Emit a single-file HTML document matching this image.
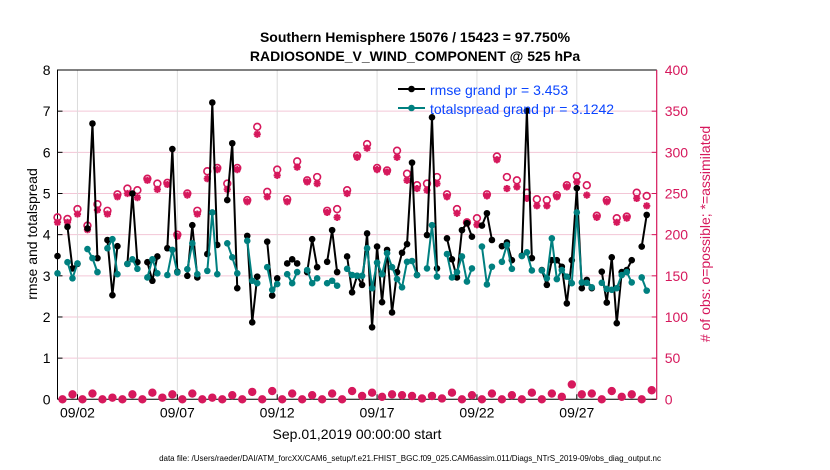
<!DOCTYPE html>
<html><head><meta charset="utf-8"><style>
html,body{margin:0;padding:0;background:#fff;}
svg{display:block;font-family:"Liberation Sans",Arial,sans-serif;}
</style></head><body>
<svg id="chart" width="830" height="470" viewBox="0 0 830 470" xmlns="http://www.w3.org/2000/svg">
<text x="415" y="42" text-anchor="middle" font-size="14" font-weight="bold">Southern Hemisphere 15076 / 15423 = 97.750%</text>
<text x="415" y="61" text-anchor="middle" font-size="14" font-weight="bold">RADIOSONDE_V_WIND_COMPONENT @ 525 hPa</text>
<g id="grid"></g>
<g id="axes"></g>
<g id="obs"></g>
<g id="lines"></g>
<text transform="translate(37,234) rotate(-90)" text-anchor="middle" font-size="14">rmse and totalspread</text>
<text transform="translate(710,234) rotate(-90)" text-anchor="middle" font-size="14" fill="#d6185c"># of obs: o=possible; *=assimilated</text>
<text x="357" y="439" text-anchor="middle" font-size="14">Sep.01,2019 00:00:00 start</text>
<text x="410" y="461" text-anchor="middle" font-size="8">data file: /Users/raeder/DAI/ATM_forcXX/CAM6_setup/f.e21.FHIST_BGC.f09_025.CAM6assim.011/Diags_NTrS_2019-09/obs_diag_output.nc</text>
<g>
<line x1="398" y1="89" x2="425" y2="89" stroke="#000" stroke-width="2"/>
<circle cx="411.5" cy="89" r="3.3" fill="#000"/>
<text x="430" y="95" font-size="14" fill="#0a45ff">rmse grand pr = 3.453</text>
<line x1="398" y1="108" x2="425" y2="108" stroke="#008080" stroke-width="2"/>
<circle cx="411.5" cy="108" r="3.3" fill="#008080"/>
<text x="430" y="114" font-size="14" fill="#0a45ff">totalspread grand pr = 3.1242</text>
</g>
</svg>
<script>
const xTickLabels = ["09/02","09/07","09/12","09/17","09/22","09/27"];
const xTickDays = [1,6,11,16,21,26];
const leftTicks = [0,1,2,3,4,5,6,7,8];
const rightTicks = [0,50,100,150,200,250,300,350,400];
const rmse = [3.48,null,4.19,3.18,3.29,null,4.15,6.70,3.43,null,
3.87,2.53,3.72,null,3.29,5.00,3.33,null,3.33,2.88,
3.47,null,3.67,6.08,3.10,null,3.00,4.23,2.96,null,
3.53,7.21,3.75,null,4.84,6.22,2.70,null,3.97,1.87,
2.98,null,3.83,2.52,2.94,null,3.30,3.40,3.30,null,
3.09,3.89,3.21,null,3.34,4.11,3.09,null,3.47,2.60,
3.00,2.78,4.03,1.75,3.71,2.36,3.63,2.11,3.09,3.56,
3.77,5.75,3.02,null,3.99,6.85,3.18,null,3.91,3.40,
2.96,4.11,4.28,3.95,null,4.22,4.52,3.87,null,3.72,
3.81,3.38,null,3.49,7.01,3.43,null,3.14,2.78,3.38,
3.38,3.22,2.33,3.38,5.13,2.70,2.90,2.70,null,3.10,
2.35,3.45,1.85,3.09,3.14,3.38,null,3.71,4.48,null];
const spread = [3.06,null,3.33,2.94,3.30,null,3.65,3.43,3.09,null,
3.67,3.89,3.04,null,3.29,3.40,3.17,null,2.96,3.40,
3.06,null,3.02,3.63,3.08,null,3.16,3.79,3.04,null,
3.12,4.54,3.04,null,3.79,3.45,3.06,null,3.85,2.88,
2.82,null,3.21,2.66,2.80,null,3.04,2.82,3.09,null,
3.14,2.82,2.94,null,2.82,2.88,2.76,null,3.17,3.02,
3.00,3.00,3.67,2.70,3.32,3.04,3.55,3.21,2.92,2.72,
3.34,3.36,3.02,null,3.18,4.23,2.98,null,3.53,2.96,
3.09,3.47,2.86,3.18,null,3.71,2.79,3.22,null,3.34,
3.75,3.17,null,3.48,3.57,3.13,null,3.13,2.94,3.91,
2.92,3.14,2.98,2.82,4.54,2.84,2.83,2.72,null,2.83,
2.68,2.66,2.70,3.02,3.09,2.84,null,2.96,2.64,null];
const nAssim = [215,0,215,6,225,0,206,7,230,0,
225,2,246,0,250,6,245,0,266,8,
255,2,261,6,198,0,248,7,225,0,
268,2,279,0,255,5,279,0,240,9,
322,0,246,10,272,0,240,7,282,0,
264,5,262,0,227,7,221,0,250,10,
294,4,305,8,279,3,276,6,294,5,
266,4,256,1,254,4,262,1,246,8,
226,0,214,5,212,0,247,7,291,0,
256,5,258,0,244,8,235,0,235,7,
246,3,258,18,264,6,248,7,221,0,
240,10,215,3,220,6,244,0,235,11];
const nPoss = [221,0,219,6,231,0,211,7,237,0,
229,2,249,0,256,6,254,0,268,8,
262,2,263,6,200,0,250,7,229,0,
277,2,281,0,262,5,281,0,242,9,
331,0,252,10,279,0,243,7,289,0,
266,5,270,0,229,7,231,0,254,10,
296,4,310,8,281,3,278,6,302,5,
274,4,260,1,262,4,270,1,249,8,
231,0,215,5,220,0,249,7,295,0,
270,5,266,0,251,8,243,0,242,7,
248,3,260,18,271,6,260,7,223,0,
242,10,220,3,222,6,251,0,247,11];

const NS="http://www.w3.org/2000/svg";
const L=57.5,R=656.7,T=70,B=399.3,DAYS=30,STEP=0.25;
const RED="#d6185c";
function xDay(d){return L+(R-L)*d/DAYS;}
function xIdx(i){return xDay(i*STEP);}
function yL(v){return B-(B-T)*v/8;}
function yR(c){return B-(B-T)*c/400;}
function mk(tag,attrs,parent){const e=document.createElementNS(NS,tag);for(const k in attrs)e.setAttribute(k,attrs[k]);parent.appendChild(e);return e;}
const grid=document.getElementById('grid'),axes=document.getElementById('axes'),obs=document.getElementById('obs'),lines=document.getElementById('lines');

leftTicks.forEach(v=>{
  if(v>0&&v<8){const g=mk('line',{x1:L,x2:R,y1:yL(v),y2:yL(v),stroke:'#f3c6d6','stroke-width':1},grid);
  
  }
  const t=mk('text',{x:L-7,y:yL(v)+5,'text-anchor':'end','font-size':14},axes);t.textContent=v;
  
  
  mk('line',{x1:L,x2:L+5,y1:yL(v),y2:yL(v),stroke:'#000'},axes);
});
rightTicks.forEach(c=>{
  const t=mk('text',{x:R+8,y:yR(c)+5,'font-size':14,fill:RED},axes);t.textContent=c;
  
  
  mk('line',{x1:R-5,x2:R,y1:yR(c),y2:yR(c),stroke:RED},axes);
});
xTickDays.forEach((d,i)=>{
  const g=mk('line',{x1:xDay(d),x2:xDay(d),y1:T,y2:B,stroke:'#dcdcdc','stroke-width':1},grid);
  
  
  mk('line',{x1:xDay(d),x2:xDay(d),y1:B,y2:B-5,stroke:'#000'},axes);
  const t=mk('text',{x:xDay(d),y:B+18,'text-anchor':'middle','font-size':14},axes);t.textContent=xTickLabels[i];
  
  
});
const frame=mk('path',{d:`M${L},${B}V${T}H${R}`,fill:'none',stroke:'#000','stroke-width':1},axes);


mk('line',{x1:L,x2:R,y1:B,y2:B,stroke:'#000'},axes);
const ra=mk('line',{x1:R,x2:R,y1:T,y2:B,stroke:RED,'stroke-width':1.2},axes);



// obs markers
function star(x,y){
  const s=3.6,d=s*0.72;
  const p=mk('path',{d:`M${x-s},${y}H${x+s}M${x},${y-s}V${y+s}M${x-d},${y-d}L${x+d},${y+d}M${x-d},${y+d}L${x+d},${y-d}`,stroke:RED,'stroke-width':2,fill:'none'},obs);
  
  
}
nAssim.forEach((c,i)=>{
  if(c==null)return;
  const x=xIdx(i);
  const cc=mk('circle',{cx:x,cy:yR(nPoss[i]),r:3.4,fill:'none',stroke:RED,'stroke-width':1.6},obs);
  
  
  star(x,yR(c));
});

function series(arr,color,name){
  let seg=[];
  const segs=[];
  arr.forEach((v,i)=>{if(v==null){if(seg.length)segs.push(seg);seg=[];}else seg.push([xIdx(i),yL(v)]);});
  if(seg.length)segs.push(seg);
  segs.forEach(s=>{
    if(s.length>1){const p=mk('polyline',{points:s.map(q=>q.join(',')).join(' '),fill:'none',stroke:color,'stroke-width':2,'stroke-linejoin':'round'},lines);
    
    }
    s.forEach(q=>{const c=mk('circle',{cx:q[0],cy:q[1],r:3.3,fill:color},lines);
      
      });
  });
}
series(rmse,'#000','rmse');
series(spread,'#008080','totalspread');
</script>
</body></html>
